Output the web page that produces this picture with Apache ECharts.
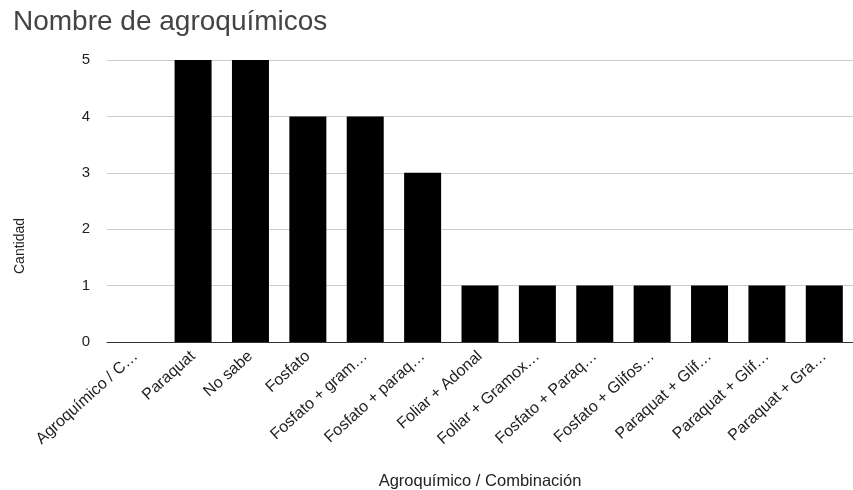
<!DOCTYPE html>
<html>
<head>
<meta charset="utf-8">
<script src="https://cdn.jsdelivr.net/npm/echarts@6/dist/echarts.min.js"></script>
<style>
  html, body { margin: 0; padding: 0; background: #fff; }
  #chart { width: 853px; height: 490px; }
</style>
</head>
<body>
<div id="chart"></div>
<script>
var categories = [
    'Agroquímico / C…', 'Paraquat', 'No sabe', 'Fosfato', 'Fosfato + gram…',
    'Fosfato + paraq…', 'Foliar + Adonal', 'Foliar + Gramox…', 'Fosfato + Paraq…',
    'Fosfato + Glifos…', 'Paraquat + Glif…', 'Paraquat + Glif…', 'Paraquat + Gra…'
];
var cantidad = [0, 5, 5, 4, 4, 3, 1, 1, 1, 1, 1, 1, 1];
var yTicks = [0, 1, 2, 3, 4, 5];

var myChart = echarts.init(document.getElementById('chart'));
var font = 'Liberation Sans, Arial, sans-serif';

var option = {
    animation: false,
    textStyle: { fontFamily: font },
    title: {
        text: 'Nombre de agroquímicos',
        left: 8,
        top: 3,
        textStyle: { fontSize: 28, fontWeight: 'normal', color: '#444', fontFamily: font }
    },
    grid: {
        left: 107,
        right: 0,
        top: 60,
        bottom: 148,
        outerBoundsMode: 'none',
        containLabel: false
    },
    xAxis: {
        type: 'category',
        data: categories,
        name: 'Agroquímico / Combinación',
        nameLocation: 'middle',
        nameGap: 131,
        nameTextStyle: { fontSize: 16.5, color: '#222' },
        axisTick: { show: false },
        axisLine: { lineStyle: { color: '#333', width: 1 } },
        axisLabel: {
            interval: 0,
            rotate: 42,
            fontSize: 16,
            color: '#222',
            margin: 12
        }
    },
    yAxis: {
        type: 'value',
        min: yTicks[0],
        max: yTicks[yTicks.length - 1],
        interval: 1,
        axisLabel: { fontSize: 15, color: '#222', margin: 17 },
        splitLine: { lineStyle: { color: '#ccc' } }
    },
    graphic: [{
        type: 'text',
        x: 20,
        y: 246,
        rotation: Math.PI / 2,
        style: {
            text: 'Cantidad',
            fontSize: 14,
            fill: '#222',
            fontFamily: font,
            textAlign: 'center',
            textVerticalAlign: 'middle'
        }
    }],
    series: [{
        type: 'bar',
        data: cantidad,
        barWidth: 37,
        itemStyle: { color: '#000' }
    }]
};

myChart.setOption(option);
</script>
</body>
</html>
